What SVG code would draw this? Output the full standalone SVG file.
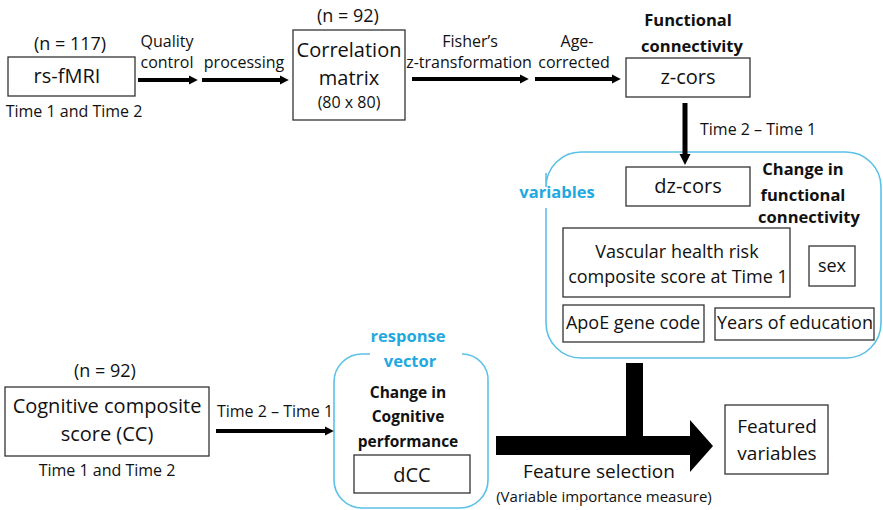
<svg xmlns="http://www.w3.org/2000/svg" width="883" height="510" viewBox="0 0 883 510">
<defs>
<style>
text{font-family:"Open Sans","Liberation Sans",sans-serif;fill:#111;}
.lg{font-size:20px;text-anchor:middle;}
.fs{font-size:19px;text-anchor:middle;}
.md{font-size:18px;text-anchor:middle;}
.sm{font-size:16px;text-anchor:middle;}
.n{font-size:18px;text-anchor:middle;}
.b{font-size:15.5px;font-weight:bold;}
.bt{font-size:16.5px;font-weight:bold;text-anchor:middle;}
.blue{font-size:16.5px;font-weight:bold;fill:#1fa9e1;text-anchor:middle;}
.box{fill:#fff;stroke:#333;stroke-width:1.3;}
.grp{fill:none;stroke:#5cc1e6;stroke-width:1.6;}
.arr{stroke:#000;stroke-width:4;fill:none;marker-end:url(#ah);}
</style>
<marker id="ah" viewBox="0 0 10 10" refX="0" refY="5" markerWidth="2.2" markerHeight="3" orient="auto" markerUnits="strokeWidth">
<path d="M0,0 L10,5 L0,10 Z" fill="#000"/>
</marker>
</defs>

<g id="groups">
<path class="grp" d="M546,208 L546,323 A35,35 0 0 0 581,358 L846,358 A35,35 0 0 0 881,323 L881,187 A35,35 0 0 0 846,152 L581,152 A35,35 0 0 0 546,187 L546,173"/>
<path class="grp" d="M370,354 L362,354 A28,28 0 0 0 334,382 L334,480 A28,28 0 0 0 362,508 L460,508 A28,28 0 0 0 488,480 L488,382 A26,26 0 0 0 462,354"/>
<text class="blue" x="557" y="198">variables</text>
<text class="blue" x="408" y="342">response</text>
<text class="blue" x="410" y="367">vector</text>
</g>

<g id="connectors">
<line class="arr" x1="138" y1="80" x2="189" y2="80"/>
<line class="arr" x1="202" y1="80" x2="280" y2="80"/>
<line class="arr" x1="412" y1="79" x2="520" y2="79"/>
<line class="arr" x1="535" y1="79" x2="612" y2="79"/>
<line class="arr" x1="685" y1="103" x2="685" y2="154" style="stroke-width:5"/>
<line class="arr" x1="216" y1="431" x2="325" y2="431"/>
<path d="M496,436 L626,436 L626,363 L643,363 L643,436 L690,436 L690,420 L713,446 L690,472 L690,455 L496,455 Z" fill="#000"/>
<text class="sm" x="167" y="47">Quality</text>
<text class="sm" x="167" y="68">control</text>
<text class="sm" x="244" y="68">processing</text>
<text class="sm" x="470" y="47">Fisher’s</text>
<text class="sm" x="469" y="68">z-transformation</text>
<text class="sm" x="577" y="47">Age-</text>
<text class="sm" x="574" y="68">corrected</text>
<text class="sm" x="700" y="135" style="text-anchor:start">Time 2 – Time 1</text>
<text class="sm" x="275" y="417">Time 2 – Time 1</text>
<text class="fs" x="599" y="478">Feature selection</text>
<text class="sm" x="604" y="502" style="font-size:15px">(Variable  importance measure)</text>
</g>

<g id="rsfmri">
<text class="n" x="70" y="50">(n = 117)</text>
<rect class="box" x="8" y="57" width="127" height="39"/>
<text class="lg" x="67" y="83">rs-fMRI</text>
<text class="sm" x="74" y="117">Time 1 and Time 2</text>
</g>

<g id="corr">
<text class="n" x="348" y="22">(n = 92)</text>
<rect class="box" x="293" y="30" width="112" height="90"/>
<text class="lg" x="349" y="57">Correlation</text>
<text class="lg" x="349" y="85">matrix</text>
<text class="sm" x="349" y="108">(80 x 80)</text>
</g>

<g id="zcors">
<text class="bt" x="688" y="26">Functional</text>
<text class="bt" x="692" y="52">connectivity</text>
<rect class="box" x="626" y="58" width="124" height="39"/>
<text class="lg" x="688" y="84">z-cors</text>
</g>

<g id="dzcors">
<rect class="box" x="626" y="167" width="124" height="39"/>
<text class="lg" x="688" y="193">dz-cors</text>
<text class="bt" x="803" y="175">Change in</text>
<text class="bt" x="803" y="201">functional</text>
<text class="bt" x="809" y="223">connectivity</text>
</g>

<g id="vascular">
<rect class="box" x="563" y="228" width="227" height="69"/>
<text class="md" x="677" y="258">Vascular health risk</text>
<text class="md" x="678" y="283">composite score at Time 1</text>
</g>

<g id="sex">
<rect class="box" x="809" y="246" width="46" height="40"/>
<text class="md" x="832" y="272">sex</text>
</g>

<g id="apoe">
<rect class="box" x="563" y="305" width="141" height="37"/>
<text class="md" x="633" y="329">ApoE gene code</text>
</g>

<g id="education">
<rect class="box" x="715" y="308" width="159" height="32"/>
<text class="md" x="795" y="329">Years of education</text>
</g>

<g id="cognitive">
<text class="n" x="105" y="377">(n = 92)</text>
<rect class="box" x="5" y="387" width="204" height="69"/>
<text class="lg" x="107" y="413">Cognitive composite</text>
<text class="lg" x="107" y="441">score (CC)</text>
<text class="sm" x="107" y="476">Time 1 and Time 2</text>
</g>

<g id="dcc">
<text class="b" x="408" y="398" style="text-anchor:middle">Change in</text>
<text class="b" x="408" y="422" style="text-anchor:middle">Cognitive</text>
<text class="b" x="408" y="447" style="text-anchor:middle">performance</text>
<rect class="box" x="354" y="455" width="116" height="38"/>
<text class="lg" x="412" y="482">dCC</text>
</g>

<g id="featured">
<rect class="box" x="725" y="405" width="103" height="69"/>
<text class="fs" x="777" y="433">Featured</text>
<text class="fs" x="777" y="460">variables</text>
</g>
</svg>
